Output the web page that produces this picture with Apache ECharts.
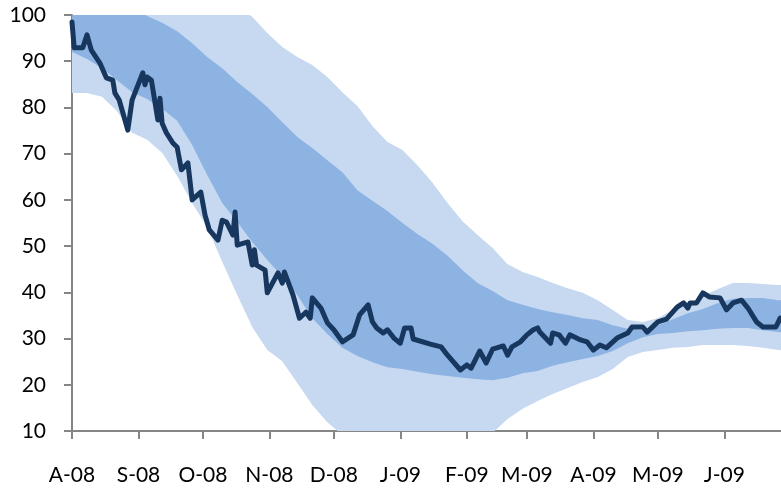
<!DOCTYPE html>
<html>
<head>
<meta charset="utf-8">
<script src="https://cdn.jsdelivr.net/npm/echarts@6/dist/echarts.min.js"></script>
<style>
  html, body { margin: 0; padding: 0; background: #ffffff; }
  #chart { width: 781px; height: 488px; }
</style>
</head>
<body>
<div id="chart"></div>
<script>
// Day 0 of the horizontal axis
const startDate = '2008-08-01';
const axisEndDay = 330.4;

// Month ticks and their labels
const monthStarts = ['2008-08-01', '2008-09-01', '2008-10-01', '2008-11-01', '2008-12-01',
  '2009-01-01', '2009-02-01', '2009-03-01', '2009-04-01', '2009-05-01', '2009-06-01'];
const monthLabels = ['A-08', 'S-08', 'O-08', 'N-08', 'D-08', 'J-09', 'F-09', 'M-09', 'A-09', 'M-09', 'J-09'];

const yTicks = { min: 10, max: 100, step: 10 };

// Weekly dates of the forecast ranges
const bandDates = ['2008-08-01', '2008-08-08', '2008-08-15', '2008-08-22', '2008-08-29',
  '2008-09-05', '2008-09-12', '2008-09-19', '2008-09-26', '2008-10-03', '2008-10-10',
  '2008-10-17', '2008-10-24', '2008-10-31', '2008-11-07', '2008-11-14', '2008-11-21',
  '2008-11-28', '2008-12-05', '2008-12-12', '2008-12-19', '2008-12-26', '2009-01-02',
  '2009-01-09', '2009-01-16', '2009-01-23', '2009-01-30', '2009-02-06', '2009-02-13',
  '2009-02-20', '2009-02-27', '2009-03-06', '2009-03-13', '2009-03-20', '2009-03-27',
  '2009-04-03', '2009-04-10', '2009-04-17', '2009-04-24', '2009-05-01', '2009-05-08',
  '2009-05-15', '2009-05-22', '2009-05-29', '2009-06-05', '2009-06-12', '2009-06-19',
  '2009-06-26', '2009-07-03'];

// Wide range (light)
const outerHigh = [112, 112, 112, 112, 112, 112, 112, 112, 109, 106.5, 104, 101.8,
  99.6, 96.1, 93.1, 90.9, 89.2, 86.6, 83.3, 80.3, 76.0, 72.5, 70.8, 67.5, 63.7, 59.3,
  55.4, 52.4, 49.6, 46.1, 44.4, 43.3, 42.0, 40.9, 39.9, 38.3, 36.2, 34.0, 33.6, 34.4,
  36.2, 37.5, 39.2, 40.7, 42.0, 42.0, 41.8, 41.6, 41.5];
const outerLow = [83.1, 83.1, 82.3, 79.2, 74.5, 73.0, 70.2, 65.2, 59.3, 54.1, 46.6, 39.4,
  32.5, 27.5, 25.1, 20.4, 15.6, 11.9, 9.1, 7.5, 6.5, 6.0, 5.8, 5.8, 6.0, 6.5,
  7.5, 8.5, 9.6, 12.6, 14.8, 16.5, 18.0, 19.3, 20.6, 21.7, 23.4, 26.0, 27.1, 27.5,
  28.0, 28.2, 28.6, 28.6, 28.6, 28.4, 28.0, 27.5, 27.3];

// Narrow range (medium)
const innerHigh = [108, 106.5, 105, 103.5, 101.5, 99.8, 98.3, 96.5, 93.9, 90.9, 88.5, 85.5,
  82.9, 80.1, 76.8, 73.6, 71.2, 68.6, 66.0, 62.1, 59.8, 57.6, 55.0, 52.6, 50.5, 47.9,
  44.8, 42.0, 40.3, 38.3, 37.3, 36.4, 35.7, 35.1, 34.4, 34.0, 32.9, 32.1, 31.8, 32.9,
  34.2, 35.5, 36.4, 37.7, 38.6, 38.8, 38.8, 38.3, 38.2];
const innerLow = [92.0, 90.5, 88.5, 85.9, 83.3, 81.8, 79.7, 77.1, 71.9, 65.4, 59.3, 55.2,
  50.9, 47.0, 43.5, 39.4, 34.4, 31.0, 28.0, 26.2, 24.9, 23.8, 23.4, 22.8, 22.3, 21.9,
  21.5, 21.2, 21.0, 21.5, 22.5, 23.0, 24.1, 24.9, 25.6, 26.2, 27.3, 29.0, 30.3, 31.0,
  31.2, 31.6, 31.8, 32.1, 32.3, 32.3, 31.8, 31.4, 31.3];

// Observed series
const lineDates = ['2008-08-01', '2008-08-02', '2008-08-06', '2008-08-08', '2008-08-10',
  '2008-08-14', '2008-08-17', '2008-08-20', '2008-08-21', '2008-08-23', '2008-08-27',
  '2008-08-29', '2008-09-03', '2008-09-04', '2008-09-05', '2008-09-07', '2008-09-10',
  '2008-09-11', '2008-09-12', '2008-09-14', '2008-09-17', '2008-09-19', '2008-09-21',
  '2008-09-24', '2008-09-26', '2008-09-30', '2008-10-02', '2008-10-04', '2008-10-08',
  '2008-10-10', '2008-10-12', '2008-10-15', '2008-10-16', '2008-10-17', '2008-10-22',
  '2008-10-24', '2008-10-25', '2008-10-26', '2008-10-30', '2008-10-31', '2008-11-05',
  '2008-11-07', '2008-11-08', '2008-11-12', '2008-11-15', '2008-11-18', '2008-11-20',
  '2008-11-21', '2008-11-25', '2008-11-28', '2008-12-01', '2008-12-05', '2008-12-10',
  '2008-12-13', '2008-12-17', '2008-12-19', '2008-12-21', '2008-12-24', '2008-12-26',
  '2008-12-29', '2009-01-01', '2009-01-03', '2009-01-06', '2009-01-07', '2009-01-15',
  '2009-01-20', '2009-01-23', '2009-01-29', '2009-02-01', '2009-02-03', '2009-02-07',
  '2009-02-10', '2009-02-13', '2009-02-18', '2009-02-20', '2009-02-22', '2009-02-26',
  '2009-03-01', '2009-03-04', '2009-03-06', '2009-03-07', '2009-03-12', '2009-03-13',
  '2009-03-16', '2009-03-19', '2009-03-21', '2009-03-26', '2009-03-29', '2009-04-01',
  '2009-04-04', '2009-04-07', '2009-04-12', '2009-04-17', '2009-04-19', '2009-04-24',
  '2009-04-26', '2009-05-01', '2009-05-05', '2009-05-10', '2009-05-13', '2009-05-15',
  '2009-05-16', '2009-05-19', '2009-05-22', '2009-05-25', '2009-05-30', '2009-06-02',
  '2009-06-05', '2009-06-09', '2009-06-12', '2009-06-16', '2009-06-19', '2009-06-25',
  '2009-06-27'];
const lineValues = [98.5, 92.9, 92.9, 95.7, 92.4,
  89.6, 86.4, 85.9, 83.1, 81.6, 75.1,
  81.6, 87.5, 84.9, 86.6, 85.9, 77.3,
  82.0, 76.6, 74.5, 72.3, 71.4, 66.5,
  68.0, 60.0, 61.7, 56.7, 53.5, 51.3,
  55.6, 55.2, 52.4, 57.4, 50.2, 50.9,
  45.9, 49.2, 45.9, 44.8, 39.9, 44.2,
  42.0, 44.4, 39.4, 34.4, 35.7, 34.4,
  38.8, 36.6, 33.4, 31.9, 29.3, 30.8,
  35.1, 37.3, 33.6, 32.3, 31.2, 31.9,
  30.1, 29.0, 32.3, 32.3, 29.9, 28.8,
  28.2, 26.4, 23.2, 24.3, 23.6, 27.3,
  24.7, 27.7, 28.4, 26.4, 28.2, 29.3,
  30.8, 31.9, 32.3, 31.4, 29.0, 31.2,
  30.8, 29.0, 30.8, 29.7, 29.3, 27.5,
  28.6, 28.0, 30.1, 31.2, 32.5, 32.5,
  31.4, 33.6, 34.2, 36.8, 37.7, 36.6,
  37.7, 37.7, 39.9, 39.0, 38.8, 36.2,
  37.7, 38.3, 36.6, 33.6, 32.5, 32.5,
  34.4];

const DAY_MS = 86400000;
function dayNum(s) {
  return (Date.parse(s + 'T00:00:00Z') - Date.parse(startDate + 'T00:00:00Z')) / DAY_MS;
}

const monthDays = monthStarts.map(dayNum);

// A range is one filled polygon: along the upper edge, back along the lower edge
function rangeSeries(low, high, color) {
  const rows = bandDates.map((d, i) => [dayNum(d), low[i], high[i]]);
  return {
    type: 'custom',
    silent: true,
    clip: true,
    data: rows,
    encode: { x: 0, y: [1, 2] },
    renderItem: function (params, api) {
      if (params.dataIndex !== 0) return null;
      const upper = rows.map(r => api.coord([r[0], r[2]]));
      const lower = rows.map(r => api.coord([r[0], r[1]])).reverse();
      return {
        type: 'polygon',
        shape: { points: upper.concat(lower) },
        style: { fill: color, stroke: null }
      };
    }
  };
}

const axisGray = '#868686';
const fontFamily = 'Lato, "Open Sans", sans-serif';

const chart = echarts.init(document.getElementById('chart'), null, { renderer: 'canvas' });
chart.setOption({
  animation: false,
  backgroundColor: '#ffffff',
  grid: { left: 72, right: 0, top: 15, bottom: 57, containLabel: false, outerBoundsMode: 'none' },
  xAxis: {
    type: 'value',
    min: 0,
    max: axisEndDay,
    axisLine: { show: true, onZero: false, lineStyle: { color: axisGray, width: 2 } },
    axisTick: { show: true, length: 8, customValues: monthDays, lineStyle: { color: axisGray, width: 2 } },
    splitLine: { show: false },
    axisLabel: {
      customValues: monthDays,
      margin: 34,
      color: '#000000',
      fontFamily: fontFamily,
      fontSize: 21,
      formatter: function (v) {
        const i = monthDays.findIndex(m => Math.abs(m - v) < 0.01);
        return i >= 0 ? monthLabels[i] : '';
      }
    }
  },
  yAxis: {
    type: 'value',
    min: yTicks.min,
    max: yTicks.max,
    interval: yTicks.step,
    axisLine: { show: true, lineStyle: { color: axisGray, width: 2 } },
    axisTick: { show: true, length: 8, lineStyle: { color: axisGray, width: 2 } },
    splitLine: { show: false },
    axisLabel: {
      margin: 26,
      color: '#000000',
      fontFamily: fontFamily,
      fontSize: 21
    }
  },
  series: [
    rangeSeries(outerLow, outerHigh, '#c6d9f1'),
    rangeSeries(innerLow, innerHigh, '#8db3e2'),
    {
      type: 'line', symbol: 'none', silent: true,
      lineStyle: { color: '#17375e', width: 5, join: 'round', cap: 'round' },
      data: lineDates.map((d, i) => [dayNum(d), lineValues[i]])
    }
  ]
});
</script>
</body>
</html>
